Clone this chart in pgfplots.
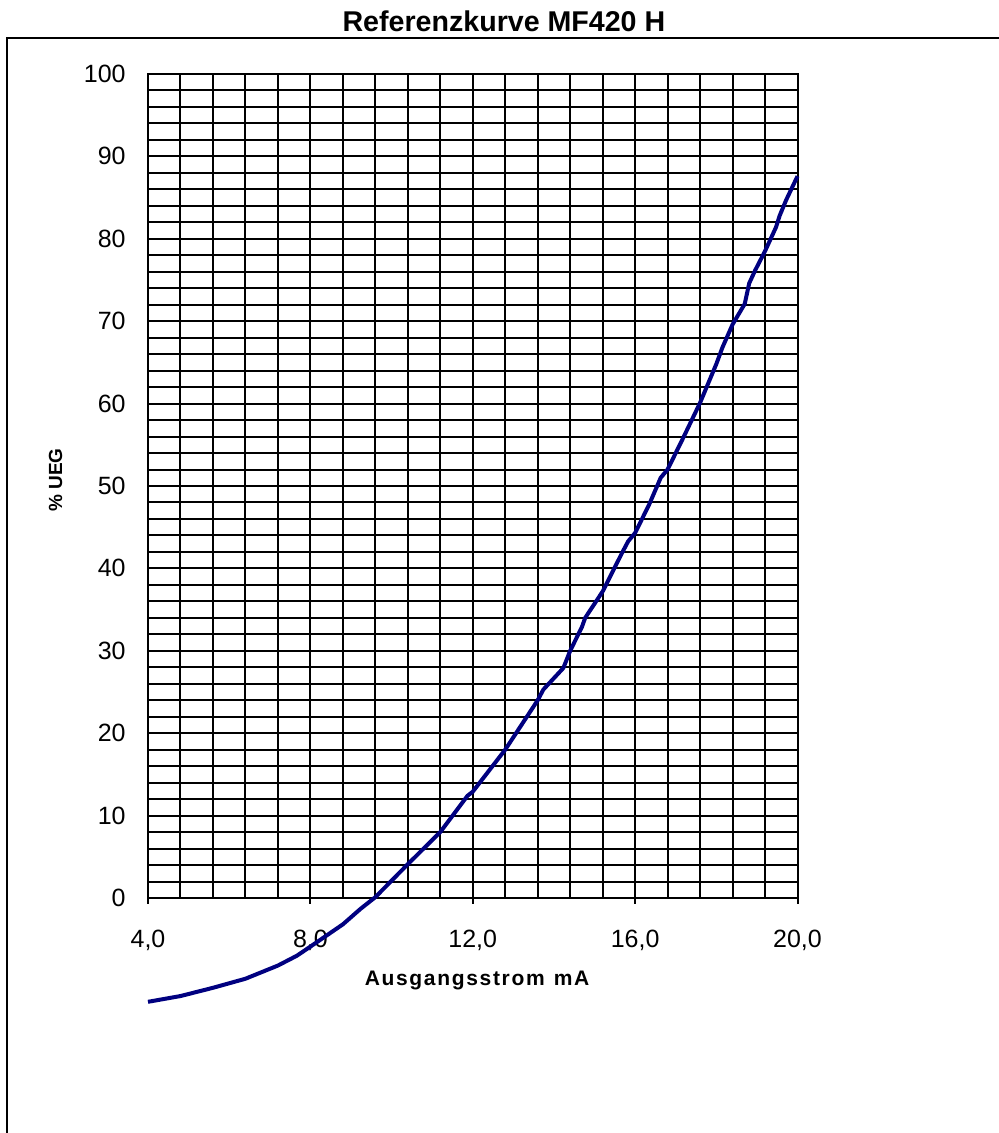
\documentclass[border=0pt]{standalone}
\usepackage{fontspec}
\setmainfont{Liberation Sans}
\usepackage{pgfplots}
\pgfplotsset{compat=1.18}
\definecolor{curvecol}{RGB}{0,0,128}
\begin{document}
\begin{tikzpicture}
\begin{axis}[
  at={(74pt,117.5pt)}, anchor=south west,
  scale only axis, width=324.75pt, height=412pt,
  xmin=4, xmax=20, ymin=0, ymax=100,
  clip=false,
  xtick={4,8,12,16,20},
  xticklabels={{4,0},{8,0},{12,0},{16,0},{20,0}},
  minor x tick num=4,
  ytick={0,10,20,30,40,50,60,70,80,90,100},
  yticklabels={0,10,20,30,40,50,60,70,80,90,100},
  minor y tick num=4,
  grid=both,
  grid style={black, line width=1pt},
  minor grid style={black, line width=1pt},
  major grid style={black, line width=1pt},
  axis line style={black, line width=1pt},
  tick align=outside,
  xtick pos=left, ytick pos=left,
  major tick length=3pt,
  minor tick length=0pt,
  ytick style={draw=none},
  xtick style={black, line width=1pt},
  tick label style={font=\fontsize{12.5pt}{14pt}\selectfont, black},
  xticklabel style={anchor=north, inner sep=0pt, yshift=-13pt},
  yticklabel style={anchor=east, inner sep=0pt, xshift=-8pt},
  xlabel={\addfontfeatures{LetterSpace=8}Ausgangsstrom\hspace{4.5pt}mA},
  xlabel style={at={(axis description cs:0.5066,-0.1007)}, anchor=center, font=\bfseries\fontsize{10.5pt}{12pt}\selectfont},
  ylabel={\% UEG},
  ylabel style={at={(axis description cs:-0.1424,0.5073)}, anchor=center, font=\bfseries\fontsize{9.5pt}{11pt}\selectfont},
  every axis title shift=0pt,
  title={Referenzkurve MF420 H},
  title style={at={(axis description cs:0.548,1.051)}, anchor=base, font=\bfseries\fontsize{14.3pt}{16pt}\selectfont},
]
\addplot[curvecol, line width=2pt, no marks] coordinates {
(4.0,-12.6) (4.8,-11.9) (5.6,-10.9) (6.4,-9.8) (7.2,-8.2) (7.67,-7.0)
(8.0,-5.9) (8.8,-3.2) (9.24,-1.3) (9.6,0.1) (10.4,4.1) (11.2,8.0)
(11.87,12.4) (12.0,12.9) (12.8,18.0) (13.6,24.0) (13.74,25.3) (14.23,27.9)
(14.4,30.0) (14.69,32.9) (14.77,34.0) (15.2,37.2) (15.68,41.9) (15.83,43.3)
(16.0,44.3) (16.35,47.8) (16.63,51.0) (16.8,52.0) (17.19,55.9) (17.6,60.1)
(18.0,64.8) (18.15,66.8) (18.4,69.6) (18.7,72.1) (18.81,74.6) (18.96,76.2)
(19.2,78.5) (19.47,81.4) (19.56,82.8) (19.72,84.7) (20.0,87.6)
};
\end{axis}
\draw[black, line width=1.25pt] (3.5pt,-5pt) -- (3.5pt,547.5pt) -- (505pt,547.5pt);
\pgfresetboundingbox
\path (0pt,0pt) rectangle (499.5pt,566.5pt);
\end{tikzpicture}
\end{document}
